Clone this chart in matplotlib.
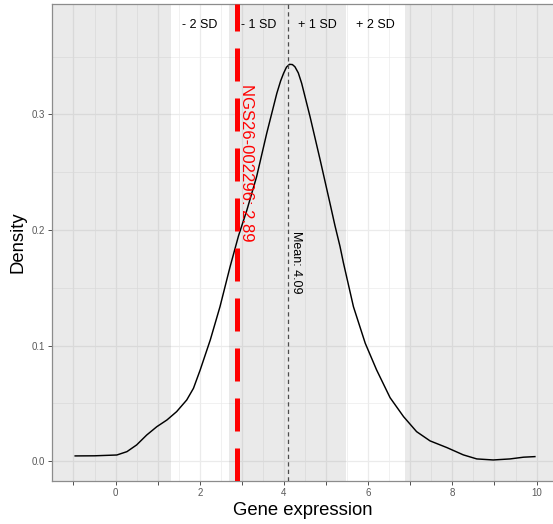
import numpy as np
import matplotlib.pyplot as plt

plt.rcParams['font.family'] = ['Liberation Sans', 'DejaVu Sans']

# density estimate of gene expression (x, density)
expr_x = [-0.96, -0.5, 0.03, 0.27, 0.50, 0.74, 0.98, 1.22, 1.45, 1.69, 1.85,
          2.01, 2.25, 2.48, 2.72, 2.92, 3.12, 3.35, 3.59, 3.83, 3.92, 3.99,
          4.06, 4.13, 4.20, 4.26, 4.34, 4.42, 4.62, 4.86, 5.10, 5.21, 5.33,
          5.41, 5.65, 5.93, 6.20, 6.52, 6.84, 7.15, 7.47, 7.87, 8.26, 8.58,
          8.97, 9.37, 9.69, 9.96]
density = [0.0046, 0.0047, 0.0054, 0.0083, 0.0141, 0.0227, 0.0299, 0.0357,
           0.0429, 0.0530, 0.0631, 0.0790, 0.1050, 0.1337, 0.1683, 0.1950,
           0.2174, 0.2462, 0.2837, 0.3183, 0.3290, 0.3356, 0.3410, 0.3434,
           0.3432, 0.3413, 0.3360, 0.3270, 0.2980, 0.2606, 0.2220, 0.2040,
           0.1860, 0.1720, 0.1337, 0.1021, 0.0790, 0.0550, 0.0386, 0.0256,
           0.0176, 0.0118, 0.0055, 0.0020, 0.0011, 0.0020, 0.0035, 0.0040]

mean_expr = 4.09
sd_expr = 1.39
sample_name = 'NGS26-002296'
sample_expr = 2.89

sd_labels = ['- 2 SD', '- 1 SD', '+ 1 SD', '+ 2 SD']
sd_label_pos = [-1.5, -0.5, 0.5, 1.5]

fig = plt.figure(figsize=(5.53, 5.24), dpi=100)
ax = fig.add_axes([52 / 553, 43 / 524, 501 / 553, 477 / 524])
ax.set_facecolor('white')

# grid
ax.set_axisbelow(True)
ax.set_xticks(np.arange(-1, 11))
ax.set_xticklabels([str(v) if v % 2 == 0 else '' for v in range(-1, 11)])
ax.set_xticks(np.arange(-1.5, 11, 1.0), minor=True)
ax.set_yticks([0.0, 0.1, 0.2, 0.3])
ax.set_yticklabels(['0.0', '0.1', '0.2', '0.3'])
ax.set_yticks([0.05, 0.15, 0.25, 0.35], minor=True)
ax.grid(which='major', color='#EBEBEB', lw=0.9)
ax.grid(which='minor', color='#EBEBEB', lw=0.5)

# shaded SD bands
shade = dict(color='#7F7F7F', alpha=0.16, lw=0)
ax.axvspan(-20, mean_expr - 2 * sd_expr, **shade)
ax.axvspan(mean_expr - sd_expr, mean_expr + sd_expr, **shade)
ax.axvspan(mean_expr + 2 * sd_expr, 20, **shade)

ax.plot(expr_x, density, color='black', lw=1.05, zorder=3)

ax.axvline(mean_expr, color='#4D4D4D', lw=0.9, ls=(0, (3.4, 2.6)), zorder=3)
ax.axvline(sample_expr, color='red', lw=3.6, ls=(0, (6.6, 3.4)), zorder=4)

for lab, k in zip(sd_labels, sd_label_pos):
    ax.text(mean_expr + k * sd_expr, 0.377, lab, ha='center', va='center',
            fontsize=9, color='black', zorder=5)

ax.text(3.11, 0.258, f'{sample_name}: {sample_expr}', rotation=270,
        ha='center', va='center', fontsize=12, color='red', zorder=5)
ax.text(4.29, 0.172, f'Mean: {mean_expr}', rotation=270,
        ha='center', va='center', fontsize=9, color='black', zorder=5)

ax.set_xlim(-1.51, 10.39)
ax.set_ylim(-0.0171, 0.3956)

ax.tick_params(which='major', length=3, width=0.6, color='#333333',
               labelcolor='#595959', labelsize=7, pad=2)
ax.tick_params(which='minor', length=0)

for side in ['left', 'top', 'bottom']:
    ax.spines[side].set_color('#8C8C8C')
    ax.spines[side].set_linewidth(0.9)
ax.spines['right'].set_visible(False)

ax.set_xlabel('Gene expression', fontsize=13.3, labelpad=3)
ax.set_ylabel('Density', fontsize=13.3, labelpad=4)

fig.savefig('out.png', dpi=100)
